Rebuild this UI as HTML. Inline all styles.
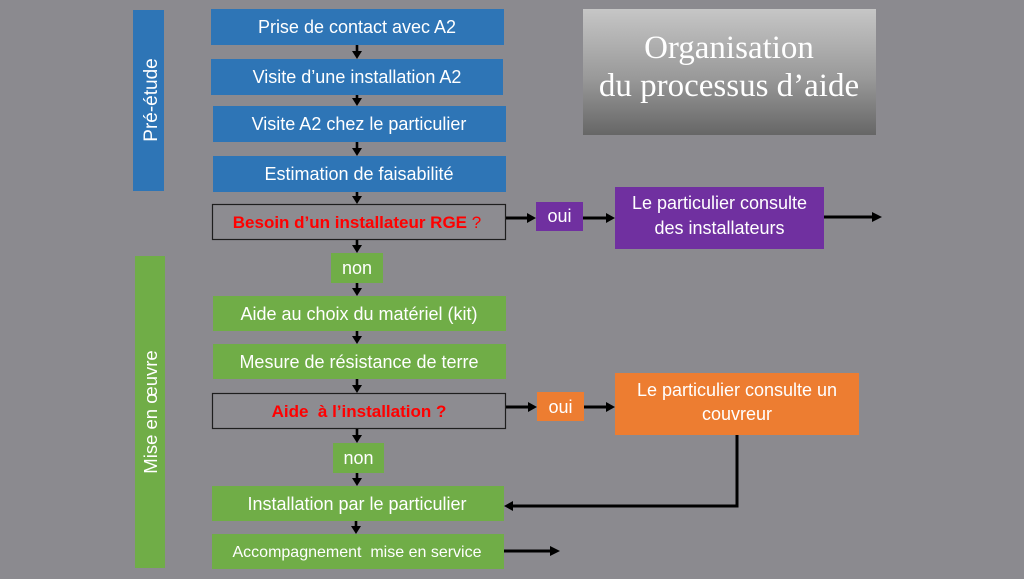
<!DOCTYPE html>
<html>
<head>
<meta charset="utf-8">
<style>
  html,body{margin:0;padding:0;background:#8b8a8f;}
  body{width:1024px;height:579px;overflow:hidden;}
  svg{display:block;}
  .t{font-family:"Liberation Sans",Arial,sans-serif;fill:#ffffff;font-size:18px;text-anchor:middle;}
  .r{font-family:"Liberation Sans",Arial,sans-serif;fill:#ff0000;font-weight:bold;font-size:17px;text-anchor:middle;}
  .ti{font-family:"Liberation Serif","Times New Roman",serif;fill:#ffffff;font-size:33px;text-anchor:middle;}
</style>
</head>
<body>
<svg width="1024" height="579" viewBox="0 0 1024 579" xmlns="http://www.w3.org/2000/svg">
  <defs>
    <linearGradient id="g" x1="0" y1="0" x2="0" y2="1">
      <stop offset="0" stop-color="#c6c6c6"/>
      <stop offset="0.55" stop-color="#999999"/>
      <stop offset="1" stop-color="#666666"/>
    </linearGradient>
  </defs>
  <rect x="0" y="0" width="1024" height="579" fill="#8b8a8f"/>

  <!-- Side bars -->
  <rect x="133" y="10" width="31" height="181" fill="#2e75b6"/>
  <text class="t" transform="translate(157,100) rotate(-90)" style="font-size:19px">Pré-étude</text>
  <rect x="135" y="256" width="30" height="312" fill="#70ad47"/>
  <text class="t" transform="translate(157,412) rotate(-90)" style="font-size:18.5px">Mise en œuvre</text>

  <!-- Title -->
  <rect x="583" y="9" width="293" height="126" fill="url(#g)"/>
  <text class="ti" x="729" y="58">Organisation</text>
  <text class="ti" x="729" y="96">du processus d’aide</text>

  <!-- Blue boxes -->
  <rect x="211" y="9" width="293" height="36" fill="#2e75b6"/>
  <text class="t" x="357" y="33">Prise de contact avec A2</text>
  <rect x="211" y="59" width="292" height="36" fill="#2e75b6"/>
  <text class="t" x="357" y="83">Visite d’une installation A2</text>
  <rect x="213" y="106" width="293" height="36" fill="#2e75b6"/>
  <text class="t" x="359" y="130">Visite A2 chez le particulier</text>
  <rect x="213" y="156" width="293" height="36" fill="#2e75b6"/>
  <text class="t" x="359" y="180">Estimation de faisabilité</text>

  <!-- Decision 1 -->
  <rect x="212.5" y="204.5" width="293" height="35" fill="#8d8c91" stroke="#1e1e1e" stroke-width="1.2"/>
  <text class="r" x="357" y="228">Besoin d’un installateur RGE <tspan style="font-weight:normal">?</tspan></text>

  <!-- oui purple -->
  <rect x="536" y="202" width="47" height="29" fill="#7030a0"/>
  <text class="t" x="559.5" y="222">oui</text>
  <rect x="615" y="187" width="209" height="62" fill="#7030a0"/>
  <text class="t" x="719.5" y="209">Le particulier consulte</text>
  <text class="t" x="719.5" y="234">des installateurs</text>

  <!-- non 1 -->
  <rect x="331" y="253" width="52" height="30" fill="#70ad47"/>
  <text class="t" x="357" y="274">non</text>

  <!-- Green boxes -->
  <rect x="213" y="296" width="293" height="35" fill="#70ad47"/>
  <text class="t" x="359" y="320">Aide au choix du matériel (kit)</text>
  <rect x="213" y="344" width="293" height="35" fill="#70ad47"/>
  <text class="t" x="359" y="368">Mesure de résistance de terre</text>

  <!-- Decision 2 -->
  <rect x="212.5" y="393.5" width="293" height="35" fill="#8d8c91" stroke="#1e1e1e" stroke-width="1.2"/>
  <text class="r" x="359" y="417">Aide&#160; à l’installation ?</text>

  <!-- oui orange -->
  <rect x="537" y="392" width="47" height="29" fill="#ed7d31"/>
  <text class="t" x="560.5" y="413">oui</text>
  <rect x="615" y="373" width="244" height="62" fill="#ed7d31"/>
  <text class="t" x="737" y="396">Le particulier consulte un</text>
  <text class="t" x="737" y="420">couvreur</text>

  <!-- non 2 -->
  <rect x="333" y="443" width="51" height="30" fill="#70ad47"/>
  <text class="t" x="358.5" y="464">non</text>

  <rect x="212" y="486" width="292" height="35" fill="#70ad47"/>
  <text class="t" x="357" y="510">Installation par le particulier</text>
  <rect x="212" y="534" width="292" height="35" fill="#70ad47"/>
  <text class="t" x="357" y="557" style="font-size:16px">Accompagnement&#160; mise en service</text>

  <!-- Vertical arrows -->
  <g stroke="#000" stroke-width="2.6" fill="none">
    <line x1="357" y1="45" x2="357" y2="52"/>
    <line x1="357" y1="95" x2="357" y2="99"/>
    <line x1="357" y1="142" x2="357" y2="149"/>
    <line x1="357" y1="192" x2="357" y2="197"/>
    <line x1="357" y1="240" x2="357" y2="246"/>
    <line x1="357" y1="283" x2="357" y2="289"/>
    <line x1="357" y1="331" x2="357" y2="337"/>
    <line x1="357" y1="379" x2="357" y2="386"/>
    <line x1="357" y1="429" x2="357" y2="436"/>
    <line x1="357" y1="473" x2="357" y2="479"/>
    <line x1="356" y1="521" x2="356" y2="527"/>
  </g>
  <g fill="#000">
    <polygon points="352,51 362,51 357,59"/>
    <polygon points="352,98 362,98 357,106"/>
    <polygon points="352,148 362,148 357,156"/>
    <polygon points="352,196 362,196 357,204"/>
    <polygon points="352,245 362,245 357,253"/>
    <polygon points="352,288 362,288 357,296"/>
    <polygon points="352,336 362,336 357,344"/>
    <polygon points="352,385 362,385 357,393"/>
    <polygon points="352,435 362,435 357,443"/>
    <polygon points="352,478 362,478 357,486"/>
    <polygon points="351,526 361,526 356,534"/>
  </g>

  <!-- Horizontal arrows -->
  <g stroke="#000" stroke-width="3" fill="none">
    <line x1="506" y1="218" x2="528" y2="218"/>
    <line x1="583" y1="218" x2="607" y2="218"/>
    <line x1="824" y1="217" x2="873" y2="217"/>
    <line x1="506" y1="407" x2="529" y2="407"/>
    <line x1="584" y1="407" x2="607" y2="407"/>
    <polyline points="737,435 737,506 512,506"/>
    <line x1="504" y1="551" x2="551" y2="551"/>
  </g>
  <g fill="#000">
    <polygon points="527,213 536,218 527,223"/>
    <polygon points="606,213 615,218 606,223"/>
    <polygon points="872,212 882,217 872,222"/>
    <polygon points="528,402 537,407 528,412"/>
    <polygon points="606,402 615,407 606,412"/>
    <polygon points="513,501 504,506 513,511"/>
    <polygon points="550,546 560,551 550,556"/>
  </g>
</svg>
</body>
</html>
